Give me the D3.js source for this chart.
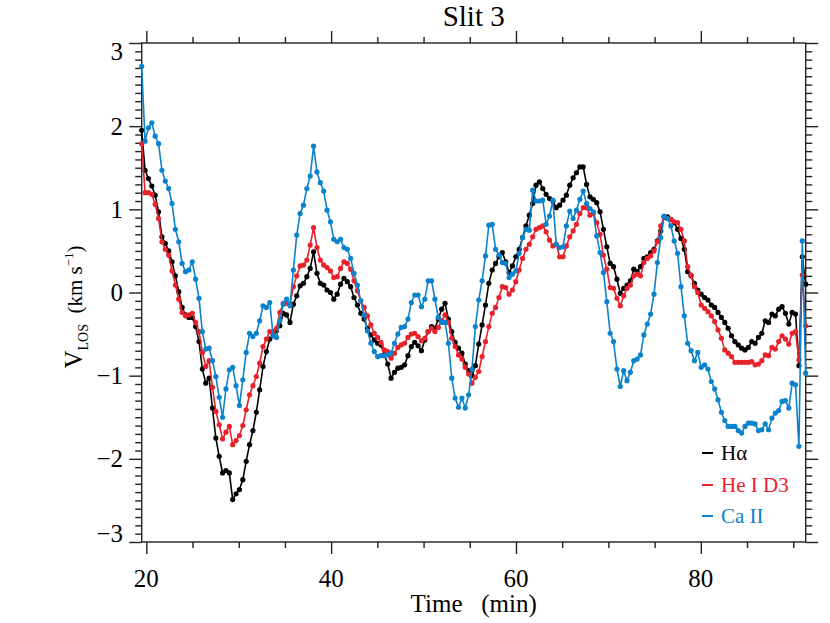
<!DOCTYPE html>
<html>
<head>
<meta charset="utf-8">
<script src="https://cdn.jsdelivr.net/npm/d3@7"></script>
<style>
  html, body { margin: 0; padding: 0; background: #ffffff; }
  svg { display: block; }
  text { font-family: "Liberation Serif", "Times New Roman", serif; }
</style>
</head>
<body>
<div id="chart"></div>
<script>
// ---------------- data ----------------
const title = "Slit 3";
const xLabel = "Time   (min)";
const xDomain = [19.5, 91.35];
const yDomain = [-3, 3];
const xMajorTicks = [20, 40, 60, 80];
const yMajorTicks = [-3, -2, -1, 0, 1, 2, 3];
const startTime = 19.5;      // first sample (min)
const cadence = 0.3647;      // sampling step (min)

const seriesNames = ["H\u03b1", "He I D3", "Ca II"];

const halpha = [
  1.95, 1.47, 1.37, 1.28, 1.17, 0.97, 0.67, 0.59, 0.50, 0.37,
  0.20, 0.01, -0.18, -0.27, -0.30, -0.30, -0.41, -0.59, -0.92, -1.09,
  -1.03, -1.39, -1.75, -1.97, -2.17, -2.14, -2.17, -2.49, -2.42, -2.37,
  -2.25, -2.03, -1.83, -1.66, -1.44, -1.17, -0.89, -0.71, -0.56, -0.52,
  -0.46, -0.40, -0.25, -0.27, -0.36, -0.14, -0.04, 0.08, 0.11, 0.19,
  0.29, 0.49, 0.23, 0.11, 0.09, 0.03, 0.00, -0.08, -0.02, 0.10,
  0.17, 0.13, 0.07, -0.06, -0.15, -0.25, -0.32, -0.43, -0.51, -0.57,
  -0.61, -0.63, -0.75, -0.86, -1.03, -0.96, -0.91, -0.90, -0.87, -0.76,
  -0.65, -0.60, -0.64, -0.70, -0.57, -0.47, -0.41, -0.43, -0.32, -0.20,
  -0.13, -0.32, -0.47, -0.60, -0.67, -0.73, -0.86, -0.94, -1.00, -0.88,
  -0.62, -0.39, -0.15, 0.11, 0.27, 0.35, 0.43, 0.48, 0.37, 0.24,
  0.32, 0.43, 0.52, 0.66, 0.80, 0.93, 1.07, 1.29, 1.33, 1.25,
  1.18, 1.13, 1.10, 1.02, 1.05, 1.11, 1.17, 1.29, 1.38, 1.44,
  1.51, 1.51, 1.30, 1.15, 1.12, 1.08, 0.97, 0.76, 0.55, 0.35,
  0.31, 0.16, -0.01, 0.05, 0.09, 0.14, 0.28, 0.25, 0.31, 0.41,
  0.43, 0.48, 0.52, 0.62, 0.74, 0.91, 0.91, 0.88, 0.84, 0.76,
  0.65, 0.52, 0.25, 0.20, 0.11, 0.03, -0.02, -0.06, -0.09, -0.15,
  -0.18, -0.24, -0.30, -0.36, -0.43, -0.52, -0.59, -0.63, -0.67, -0.69,
  -0.66, -0.59, -0.61, -0.54, -0.49, -0.34, -0.36, -0.26, -0.28, -0.20,
  -0.17, -0.25, -0.38, -0.24, -0.26, -0.88, 0.43, 0.10
];

const heD3 = [
  1.79, 1.20, 1.20, 1.18, 1.06, 0.89, 0.61, 0.52, 0.45, 0.26,
  0.09, -0.08, -0.24, -0.28, -0.27, -0.25, -0.36, -0.47, -0.72, -0.89,
  -0.82, -1.14, -1.43, -1.59, -1.76, -1.68, -1.61, -1.83, -1.78, -1.72,
  -1.60, -1.41, -1.23, -1.12, -1.01, -0.85, -0.65, -0.56, -0.47, -0.47,
  -0.43, -0.24, -0.13, -0.13, -0.14, 0.07, 0.20, 0.32, 0.33, 0.39,
  0.57, 0.78, 0.54, 0.39, 0.33, 0.30, 0.26, 0.18, 0.19, 0.29,
  0.37, 0.35, 0.28, 0.14, 0.02, -0.10, -0.18, -0.28, -0.39, -0.49,
  -0.54, -0.60, -0.69, -0.71, -0.79, -0.73, -0.66, -0.63, -0.61, -0.54,
  -0.50, -0.49, -0.53, -0.58, -0.55, -0.47, -0.43, -0.47, -0.42, -0.34,
  -0.27, -0.36, -0.55, -0.65, -0.75, -0.80, -0.90, -0.98, -1.09, -1.02,
  -0.95, -0.77, -0.59, -0.41, -0.25, -0.18, -0.06, 0.07, 0.06, -0.02,
  0.03, 0.13, 0.27, 0.41, 0.52, 0.58, 0.67, 0.76, 0.78, 0.80,
  0.73, 0.63, 0.56, 0.58, 0.43, 0.43, 0.56, 0.67, 0.74, 0.82,
  0.95, 1.02, 1.02, 0.93, 0.95, 0.84, 0.70, 0.45, 0.28, 0.06,
  0.05, -0.07, -0.16, -0.04, 0.05, 0.09, 0.20, 0.22, 0.20, 0.36,
  0.41, 0.44, 0.50, 0.61, 0.80, 0.91, 0.89, 0.88, 0.85, 0.84,
  0.76, 0.62, 0.31, 0.21, 0.07, 0.00, -0.15, -0.19, -0.23, -0.28,
  -0.35, -0.45, -0.55, -0.69, -0.73, -0.77, -0.84, -0.84, -0.84, -0.84,
  -0.84, -0.83, -0.87, -0.86, -0.82, -0.75, -0.76, -0.66, -0.68, -0.59,
  -0.52, -0.56, -0.62, -0.49, -0.47, -0.81, 0.21, -0.40
];

const caII = [
  2.72, 1.82, 1.98, 2.04, 1.88, 1.79, 1.47, 1.34, 1.25, 1.07,
  0.76, 0.61, 0.35, 0.25, 0.27, 0.37, 0.16, -0.07, -0.47, -0.68,
  -0.67, -0.82, -1.01, -1.26, -1.50, -1.16, -0.93, -0.90, -1.12, -1.36,
  -1.05, -0.72, -0.49, -0.53, -0.49, -0.34, -0.16, -0.18, -0.12, -0.52,
  -0.54, -0.34, -0.14, -0.08, -0.16, 0.27, 0.69, 0.95, 1.05, 1.25,
  1.40, 1.76, 1.45, 1.32, 1.22, 0.99, 0.85, 0.64, 0.61, 0.64,
  0.54, 0.52, 0.41, 0.23, 0.09, -0.10, -0.27, -0.46, -0.61, -0.71,
  -0.77, -0.76, -0.76, -0.75, -0.73, -0.61, -0.50, -0.42, -0.41, -0.32,
  -0.12, -0.03, -0.03, -0.17, -0.08, 0.14, 0.14, -0.08, -0.30, -0.36,
  -0.36, -0.61, -1.03, -1.27, -1.38, -1.27, -1.39, -1.23, -0.92, -0.41,
  -0.09, 0.14, 0.44, 0.81, 0.82, 0.52, 0.45, 0.36, 0.35, 0.18,
  0.22, 0.26, 0.47, 0.66, 0.76, 0.75, 1.23, 1.10, 1.10, 1.11,
  0.82, 0.92, 1.11, 0.58, 0.54, 0.55, 0.80, 0.98, 0.89, 0.99,
  1.12, 1.22, 1.07, 1.01, 0.97, 0.68, 0.48, 0.24, -0.11, -0.49,
  -0.59, -0.92, -1.13, -0.94, -1.06, -0.96, -0.82, -0.80, -0.75, -0.51,
  -0.38, -0.26, -0.02, 0.36, 0.66, 0.92, 0.89, 0.80, 0.62, 0.47,
  0.07, -0.28, -0.61, -0.70, -0.82, -0.72, -0.90, -0.87, -0.92, -1.07,
  -1.16, -1.29, -1.44, -1.54, -1.61, -1.61, -1.61, -1.66, -1.69, -1.61,
  -1.57, -1.57, -1.58, -1.66, -1.65, -1.58, -1.65, -1.51, -1.45, -1.42,
  -1.31, -1.30, -1.39, -1.09, -1.11, -1.85, 0.62, -0.97
];

const seriesColors = ["#000000", "#e8212b", "#0a82cc"];

// ---------------- layout ----------------
const W = 830, H = 623;
const plot = { left: 141.7, right: 805.7, top: 43, bottom: 542 };

const svg = d3.select("#chart").append("svg")
  .attr("width", W).attr("height", H)
  .attr("viewBox", `0 0 ${W} ${H}`);

const x = d3.scaleLinear().domain(xDomain).range([plot.left, plot.right]);
const y = d3.scaleLinear().domain(yDomain).range([plot.bottom, plot.top]);

const axisColor = "#222";
const axisWidth = 1.4;

// minor tick values
const xMinor = d3.range(20, 91, 5).filter(v => !xMajorTicks.includes(v));
const yMinor = d3.range(-30, 31).map(v => v / 10).filter(v => Math.abs(v - Math.round(v)) > 1e-6);

function styleAxis(g) {
  g.selectAll(".domain").remove();
  g.selectAll(".tick line").attr("stroke", axisColor).attr("stroke-width", axisWidth);
  g.selectAll(".tick text").remove();
}

// bottom axis
svg.append("g").attr("transform", `translate(0,${plot.bottom})`)
  .call(d3.axisBottom(x).tickValues(xMajorTicks).tickSize(12)).call(styleAxis);
svg.append("g").attr("transform", `translate(0,${plot.bottom})`)
  .call(d3.axisBottom(x).tickValues(xMinor).tickSize(6)).call(styleAxis);
// top axis
svg.append("g").attr("transform", `translate(0,${plot.top})`)
  .call(d3.axisTop(x).tickValues(xMajorTicks).tickSize(12)).call(styleAxis);
svg.append("g").attr("transform", `translate(0,${plot.top})`)
  .call(d3.axisTop(x).tickValues(xMinor).tickSize(6)).call(styleAxis);
// left axis
svg.append("g").attr("transform", `translate(${plot.left},0)`)
  .call(d3.axisLeft(y).tickValues(yMajorTicks).tickSize(12.5)).call(styleAxis);
svg.append("g").attr("transform", `translate(${plot.left},0)`)
  .call(d3.axisLeft(y).tickValues(yMinor).tickSize(6.5)).call(styleAxis);
// right axis
svg.append("g").attr("transform", `translate(${plot.right},0)`)
  .call(d3.axisRight(y).tickValues(yMajorTicks).tickSize(12.5)).call(styleAxis);
svg.append("g").attr("transform", `translate(${plot.right},0)`)
  .call(d3.axisRight(y).tickValues(yMinor).tickSize(6.5)).call(styleAxis);

// frame
svg.append("rect")
  .attr("x", plot.left).attr("y", plot.top)
  .attr("width", plot.right - plot.left).attr("height", plot.bottom - plot.top)
  .attr("fill", "none").attr("stroke", axisColor).attr("stroke-width", axisWidth);

// tick labels
const fmt = v => (v < 0 ? "\u2212" + Math.abs(v) : String(v));
svg.append("g").selectAll("text").data(xMajorTicks).join("text")
  .attr("x", d => x(d)).attr("y", 587)
  .attr("text-anchor", "middle").attr("font-size", 25).attr("fill", "#000")
  .text(d => d);

svg.append("g").selectAll("text").data(yMajorTicks).join("text")
  .attr("x", 123)
  .attr("y", d => {
    let c = y(d);
    if (d === yDomain[1]) c = plot.top + 8;
    if (d === yDomain[0]) c = plot.bottom - 9;
    return c + 8.5;
  })
  .attr("text-anchor", "end").attr("font-size", 25).attr("fill", "#000")
  .text(d => fmt(d));

// title
svg.append("text")
  .attr("x", (plot.left + plot.right) / 2).attr("y", 26)
  .attr("text-anchor", "middle").attr("font-size", 29).attr("fill", "#000")
  .text(title);

// x label
svg.append("text")
  .attr("x", (plot.left + plot.right) / 2).attr("y", 612)
  .attr("text-anchor", "middle").attr("font-size", 25).attr("fill", "#000")
  .style("white-space", "pre")
  .text(xLabel);

// y label
const yl = svg.append("text")
  .attr("transform", `translate(82,307) rotate(-90)`)
  .attr("text-anchor", "middle").attr("fill", "#000")
  .style("white-space", "pre").attr("font-size", 25);
yl.append("tspan").text("V");
yl.append("tspan").attr("font-size", 14).attr("dy", 6).text("LOS");
yl.append("tspan").attr("dy", -6).attr("font-size", 21).text("  (km s");
yl.append("tspan").attr("font-size", 13).attr("dy", -9).text("\u22121");
yl.append("tspan").attr("dy", 9).attr("font-size", 21).text(")");

// ---------------- series ----------------
const series = [halpha, heD3, caII].map((vals, k) => ({
  name: seriesNames[k],
  color: seriesColors[k],
  points: vals.map((v, i) => ({ t: startTime + i * cadence, v }))
}));

const line = d3.line().x(d => x(d.t)).y(d => y(d.v));

const gSeries = svg.append("g");
series.forEach(s => {
  const g = gSeries.append("g");
  g.append("path").datum(s.points)
    .attr("d", line).attr("fill", "none")
    .attr("stroke", s.color).attr("stroke-width", 1.6)
    .attr("stroke-linejoin", "round");
  g.selectAll("circle").data(s.points).join("circle")
    .attr("cx", d => x(d.t)).attr("cy", d => y(d.v))
    .attr("r", 2.6).attr("fill", s.color);
});

// ---------------- legend ----------------
const legendY = [460, 492, 523];
const lg = svg.append("g");
series.forEach((s, k) => {
  lg.append("line")
    .attr("x1", 702).attr("x2", 713)
    .attr("y1", legendY[k] - 7).attr("y2", legendY[k] - 7)
    .attr("stroke", s.color).attr("stroke-width", 2);
  lg.append("text")
    .attr("x", 721).attr("y", legendY[k])
    .attr("font-size", 21).attr("fill", s.color)
    .text(s.name);
});
</script>
</body>
</html>
